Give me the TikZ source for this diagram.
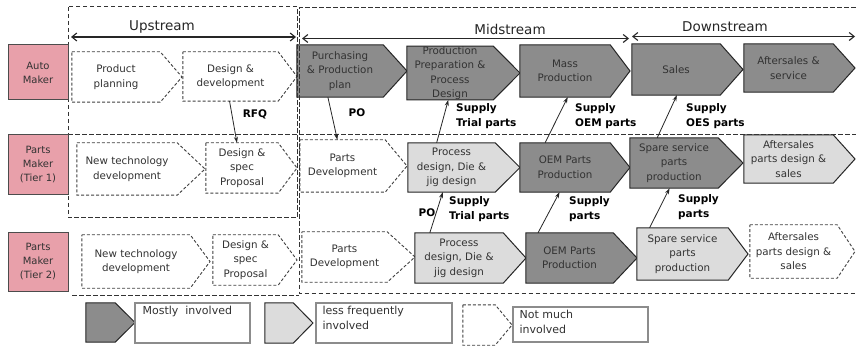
\documentclass[tikz,border=0pt]{standalone}
\usepackage{fontspec}
\setmainfont{DejaVu Sans}
\usetikzlibrary{arrows.meta,calc,backgrounds}
\definecolor{darkbox}{RGB}{140,140,140}
\definecolor{lightbox}{RGB}{220,220,220}
\definecolor{pinkbox}{RGB}{232,160,170}
\definecolor{txt}{RGB}{50,50,50}
\pgfdeclarelayer{pagebg}
\pgfsetlayers{pagebg,background,main}
\tikzset{
  boxtext/.style={inner sep=0pt, align=center, font=\fontsize{10.3}{14.5}\selectfont, text=txt},
  mostly/.style={draw=black!85, fill=darkbox, line width=1pt},
  lessfreq/.style={draw=black!85, fill=lightbox, line width=1pt},
  notmuch/.style={draw=black!75, dash pattern=on 3pt off 2pt, line width=0.9pt, fill=white},
  region/.style={draw=black!80, dash pattern=on 4.5pt off 2.5pt, line width=1pt},
  rowlabel/.style={draw=black!70, fill=pinkbox, line width=1pt, inner sep=0pt, align=center,
    font=\fontsize{10}{14}\selectfont, text=txt},
  heading/.style={font=\fontsize{13.5}{16}\selectfont, text=black!85, inner sep=0pt},
  span/.style={{Straight Barb[length=5pt,width=8pt]}-{Straight Barb[length=5pt,width=8pt]}, line width=1.1pt, draw=black!85},
  conn/.style={-{Stealth[length=6pt,width=4pt]}, line width=0.8pt, draw=black!85},
  lab/.style={font=\bfseries\fontsize{10.5}{15}\selectfont, inner sep=0pt, align=left},
  legbox/.style={draw=black!45, line width=1.2pt, fill=white, inner sep=0pt},
  legtext/.style={font=\fontsize{11}{15}\selectfont, text=txt, inner sep=0pt, align=left},
}
% name, style, x1, y1, x2, y2, tip, text
\newcommand\pentbox[8]{%
  \node[boxtext, minimum width={(#5-#3)*1pt}, minimum height={(#6-#4)*1pt}] (#1) at ({(#3+#5)/2},{(#4+#6)/2}) {#8};
  \begin{pgfonlayer}{background}
    \draw[#2] (#1.north west) -- (#1.north east) -- (#7,{(#4+#6)/2}) -- (#1.south east) -- (#1.south west) -- cycle;
  \end{pgfonlayer}}
\begin{document}
\begin{tikzpicture}[x=1pt,y=-1pt]
\begin{pgfonlayer}{pagebg}
\fill[white] (0,0) rectangle (856,347);
\end{pgfonlayer}
\useasboundingbox (0,0) rectangle (856,347);
% regions
\draw[region] (68,7) rectangle (297,218);
\draw[region] (855.5,8) -- (299,8) -- (299,293) -- (855.5,293);
\draw[region] (68,135) -- (855.5,135);
\draw[region] (72,295.5) -- (299,295.5);
% headings
\node[heading] (hup) at (162,27) {Upstream};
\node[heading] (hmid) at (510,29) {Midstream};
\node[heading] (hdown) at (725,27) {Downstream};
\coordinate (u1) at (71,37); \coordinate (u2) at (296,37);
\coordinate (m1) at (302,38.5); \coordinate (m2) at (629,38.5);
\coordinate (d1) at (632,36.5); \coordinate (d2) at (855,36.5);
\draw[span] (u1) -- (u2);
\draw[span] (m1) -- (m2);
\draw[span] (d1) -- (d2);
% row labels
\node[rowlabel, minimum width=60pt, minimum height=55pt] (auto) at (38,72.5) {Auto\\Maker};
\node[rowlabel, minimum width=60pt, minimum height=60pt] (tier1) at (38,165) {Parts\\Maker\\(Tier 1)};
\node[rowlabel, minimum width=60pt, minimum height=58pt] (tier2) at (38,262) {Parts\\Maker\\(Tier 2)};
% row 1
\pentbox{A1}{notmuch}{72}{52}{160}{102}{182}{Product\\planning}
\pentbox{A2}{notmuch}{183}{52}{278}{101}{297}{Design \&\\development}
\pentbox{A3}{mostly}{297}{45}{383}{97}{407}{Purchasing\\\& Production\\plan}
\pentbox{A4}{mostly}{407}{48}{493}{98}{520}{\fontsize{10.3}{15.5}\selectfont Production\\Preparation \&\\Process\\Design}
\pentbox{A5}{mostly}{520}{45}{610}{97}{630}{Mass\\Production}
\pentbox{A6}{mostly}{632}{44}{720}{95}{743}{Sales}
\pentbox{A7}{mostly}{744}{44}{833}{92}{855}{Aftersales \&\\service}
% row 2
\pentbox{B1}{notmuch}{77}{143}{177}{195}{205}{New technology\\development}
\pentbox{B2}{notmuch}{206}{143}{278}{193}{297}{Design \&\\spec\\Proposal}
\pentbox{B3}{notmuch}{300}{140}{385}{192}{407}{Parts\\Development}
\pentbox{B4}{lessfreq}{408}{143}{495}{192}{520}{Process\\design, Die \&\\jig design}
\pentbox{B5}{mostly}{520}{143}{610}{192}{630}{OEM Parts\\Production}
\pentbox{B6}{mostly}{630}{138}{718}{188}{743}{Spare service\\parts\\production}
\pentbox{B7}{lessfreq}{744}{135}{833}{183}{855}{Aftersales\\parts design \&\\sales}
% row 3
\pentbox{C1}{notmuch}{82}{235}{190}{288}{210}{New technology\\development}
\pentbox{C2}{notmuch}{213}{235}{278}{285}{297}{Design \&\\spec\\Proposal}
\pentbox{C3}{notmuch}{302}{232}{387}{282}{415}{Parts\\Development}
\pentbox{C4}{lessfreq}{415}{233}{503}{283}{526}{Process\\design, Die \&\\jig design}
\pentbox{C5}{mostly}{526}{233}{613}{283}{637}{OEM Parts\\Production}
\pentbox{C6}{lessfreq}{637}{228}{728}{280}{748}{Spare service\\parts\\production}
\pentbox{C7}{notmuch}{750}{225}{837}{278}{855}{Aftersales\\parts design \&\\sales}
% connectors
\draw[conn] ($(A2.south west)!0.49!(A2.south east)$) -- ($(B2.north west)!0.43!(B2.north east)$);
\draw[conn] ($(A3.south west)!0.36!(A3.south east)$) -- ($(B3.north west)!0.44!(B3.north east)$);
\draw[conn] ($(B4.north west)!0.33!(B4.north east)$) -- ($(A4.south west)!0.48!(A4.south east)$);
\draw[conn] ($(B5.north west)!0.28!(B5.north east)$) -- ($(A5.south west)!0.53!(A5.south east)$);
\draw[conn] ($(B6.north west)!0.31!(B6.north east)$) -- ($(A6.south west)!0.51!(A6.south east)$);
\draw[conn] ($(C4.north west)!0.17!(C4.north east)$) -- ($(B4.south west)!0.40!(B4.south east)$);
\draw[conn] ($(C5.north west)!0.14!(C5.north east)$) -- ($(B5.south west)!0.44!(B5.south east)$);
\draw[conn] ($(C6.north west)!0.14!(C6.north east)$) -- ($(B6.south west)!0.45!(B6.south east)$);
% connector labels
\node[lab] (lrfq) at (255,114) {RFQ};
\node[lab] (lpo1) at (357,113) {PO};
\node[lab, anchor=west] (ltr1) at (456,116) {Supply\\Trial parts};
\node[lab, anchor=west] (loem) at (575,116) {Supply\\OEM parts};
\node[lab, anchor=west] (loes) at (686,116) {Supply\\OES parts};
\node[lab] (lpo2) at (427,213) {PO};
\node[lab, anchor=west] (ltr2) at (449,209) {Supply\\Trial parts};
\node[lab, anchor=west] (lsp1) at (569,209) {Supply\\parts};
\node[lab, anchor=west] (lsp2) at (678,207) {Supply\\parts};
% legend
\pentbox{L1}{mostly}{86}{303}{115}{342}{135}{}
\node[legbox, minimum width=115pt, minimum height=40pt] (LB1) at (192.5,323) {};
\node[legtext, anchor=north west] (LT1) at ($(LB1.north west)+(8,4)$) {Mostly\ \ involved};
\pentbox{L2}{lessfreq}{265}{303}{293}{343}{313}{}
\node[legbox, minimum width=136pt, minimum height=40pt] (LB2) at (384,323) {};
\node[legtext, anchor=north west] (LT2) at ($(LB2.north west)+(7,4)$) {less frequently\\involved};
\pentbox{L3}{notmuch}{463}{305}{495}{345}{512}{}
\node[legbox, minimum width=135pt, minimum height=35pt] (LB3) at (580.5,324.5) {};
\node[legtext, anchor=north west] (LT3) at ($(LB3.north west)+(7,4)$) {Not much\\involved};
\end{tikzpicture}
\end{document}
